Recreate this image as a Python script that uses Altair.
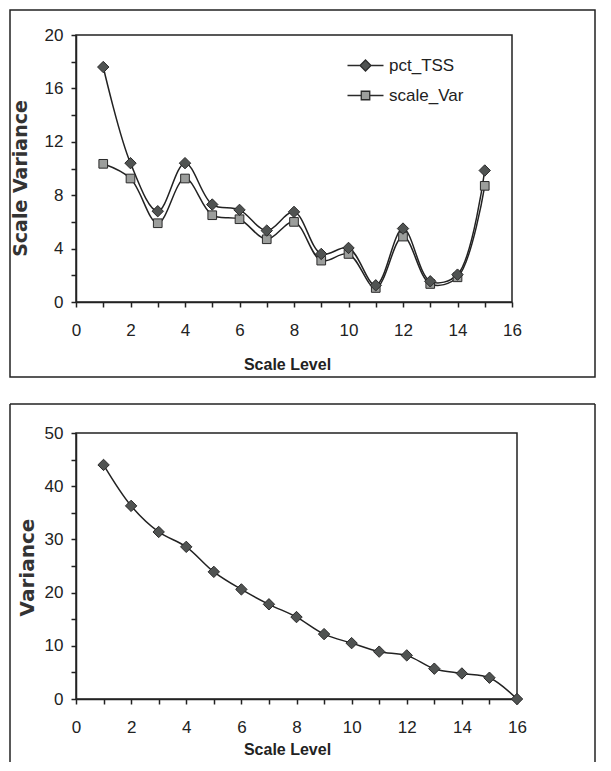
import altair as alt
import pandas as pd

# ---- data ----
series_names = ["pct_TSS", "scale_Var"]
levels_top = list(range(1, 16))
pct_tss = [17.6, 10.4, 6.8, 10.4, 7.3, 6.9, 5.35, 6.75, 3.6, 4.05, 1.25, 5.5, 1.55, 2.05, 9.85]
scale_var = [10.35, 9.25, 5.9, 9.25, 6.5, 6.2, 4.7, 6.0, 3.1, 3.6, 1.05, 4.9, 1.35, 1.85, 8.7]

levels_bottom = list(range(1, 17))
variance = [44.0, 36.3, 31.4, 28.6, 23.9, 20.6, 17.8, 15.4, 12.2, 10.5, 8.9, 8.2, 5.7, 4.8, 4.0, 0.0]

x_ticks = list(range(0, 17))
y_ticks_top = list(range(0, 21, 2))
y_ticks_bottom = list(range(0, 51, 5))

top_df = pd.DataFrame({
    "level": levels_top + levels_top,
    "value": pct_tss + scale_var,
    "series": [series_names[0]] * len(levels_top) + [series_names[1]] * len(levels_top),
})
bottom_df = pd.DataFrame({"level": levels_bottom, "value": variance})

INK = "#222222"
MARK_EDGE = "#2a2a2a"
DARK_FILL = "#505352"
LIGHT_FILL = "#9c9e9c"
LABEL_FONT = "Liberation Sans"

# legend symbols: a short line with the marker on it (unit box -1..1 scaled by sqrt(size)/2)
LEG_DIAMOND = "M-3.6,0H-1.1M1.1,0H3.6M0,-1.1L1.1,0L0,1.1L-1.1,0Z"
LEG_SQUARE = "M-3.6,0H-0.85M0.85,0H3.6M-0.85,-0.85H0.85V0.85H-0.85Z"


def x_axis(title_y):
    return alt.Axis(
        values=x_ticks,
        labelExpr="datum.value % 2 === 0 ? datum.label : ''",
        labelFlush=False, labelOverlap=False,
        labelFont=LABEL_FONT, labelFontSize=17, labelColor=INK, labelPadding=15,
        tickSize=5, tickColor=INK, tickWidth=1.5,
        domainColor=INK, domainWidth=1.5, grid=False,
        titleFont=LABEL_FONT, titleFontSize=16, titleFontWeight="bold", titleColor=INK,
        titleBaseline="alphabetic", titleAlign="center", titleX=211, titleY=title_y,
    )


def y_axis(values, expr, title_x, title_y, title_size):
    return alt.Axis(
        values=values, labelExpr=expr, labelOverlap=False, labelFlush=False,
        labelFont=LABEL_FONT, labelFontSize=17, labelColor=INK, labelPadding=8,
        tickSize=5, tickColor=INK, tickWidth=1.5,
        domainColor=INK, domainWidth=1.5, grid=False,
        titleFont="DejaVu Sans", titleFontSize=title_size, titleFontWeight="bold", titleColor="#333333",
        titleBaseline="alphabetic", titleAlign="center", titleX=title_x, titleY=title_y, titleAngle=270,
    )


# ---------- top chart ----------
xt = alt.X("level:Q", scale=alt.Scale(domain=[0, 16], nice=False), axis=x_axis(67), title="Scale Level")
yt = alt.Y("value:Q", scale=alt.Scale(domain=[0, 20], nice=False),
           axis=y_axis(y_ticks_top, "datum.value % 4 === 0 ? datum.label : ''", -50, 143, 19),
           title="Scale Variance")

legend = alt.Legend(
    orient="none", legendX=281, legendY=22, title=None, padding=0,
    symbolSize=100, symbolStrokeWidth=1.3, symbolOpacity=1,
    labelFontSize=17, labelFont=LABEL_FONT, labelColor=INK, rowPadding=12, labelOffset=15,
)

line_top = alt.Chart(top_df).mark_line(
    interpolate="catmull-rom", strokeWidth=1.5, color=INK, clip=False
).encode(x=xt, y=yt, detail="series:N")

pts_tss = alt.Chart(top_df).transform_filter(alt.datum.series == series_names[0]).mark_point(
    filled=True, shape="diamond", size=130, fill=DARK_FILL, stroke=MARK_EDGE, strokeWidth=1, opacity=1, clip=False
).encode(x=xt, y=yt)

pts_var = alt.Chart(top_df).transform_filter(alt.datum.series == series_names[1]).mark_point(
    filled=True, shape="square", size=75, fill=LIGHT_FILL, stroke=MARK_EDGE, strokeWidth=1, opacity=1, clip=False
).encode(x=xt, y=yt)

# legend carrier: zero-size points, only there to produce the legend
leg_layer = alt.Chart(top_df).mark_point(
    filled=True, size=0, opacity=1, stroke=MARK_EDGE, strokeWidth=1.3, strokeOpacity=1, clip=False
).encode(
    x=xt, y=yt,
    shape=alt.Shape("series:N", scale=alt.Scale(domain=series_names, range=[LEG_DIAMOND, LEG_SQUARE]), legend=legend),
    fill=alt.Fill("series:N", scale=alt.Scale(domain=series_names, range=[DARK_FILL, LIGHT_FILL]), legend=legend),
)

frame_top = alt.Chart(alt.Data(values=[{}])).mark_rect(
    fill="transparent", stroke=INK, strokeWidth=1.5, clip=False
).encode(x=alt.value(-66), x2=alt.value(519), y=alt.value(-25), y2=alt.value(342))

top = alt.layer(frame_top, line_top, pts_var, pts_tss, leg_layer).properties(width=436, height=267)

# ---------- bottom chart ----------
xb = alt.X("level:Q", scale=alt.Scale(domain=[0, 16], nice=False), axis=x_axis(55), title="Scale Level")
yb = alt.Y("value:Q", scale=alt.Scale(domain=[0, 50], nice=False),
           axis=y_axis(y_ticks_bottom, "datum.value % 10 === 0 ? datum.label : ''", -43, 134, 20),
           title="Variance")

line_bot = alt.Chart(bottom_df).mark_line(
    interpolate="catmull-rom", strokeWidth=1.5, color=INK, clip=False
).encode(x=xb, y=yb)

pts_bot = alt.Chart(bottom_df).mark_point(
    filled=True, fill=DARK_FILL, stroke=MARK_EDGE, strokeWidth=1, opacity=1, size=130,
    shape="diamond", clip=False
).encode(x=xb, y=yb)

one = alt.Data(values=[{}])
rule_top = alt.Chart(one).mark_rule(color=INK, strokeWidth=1.5, clip=False).encode(
    x=alt.value(-66), x2=alt.value(519), y=alt.value(-29))
rule_left = alt.Chart(one).mark_rule(color=INK, strokeWidth=1.5, clip=False).encode(
    x=alt.value(-66), y=alt.value(-29), y2=alt.value(329))
rule_right = alt.Chart(one).mark_rule(color=INK, strokeWidth=1.5, clip=False).encode(
    x=alt.value(519), y=alt.value(-29), y2=alt.value(329))

bottom = alt.layer(rule_top, rule_left, rule_right, line_bot, pts_bot).properties(width=441, height=266)

chart = alt.concat(top, bottom, columns=1, spacing=23, align="none", bounds="full").properties(
    padding={"left": 0, "top": 0, "right": 0, "bottom": 0},
    background="white",
).configure_view(stroke=INK, strokeWidth=1.5)

chart.save("out.html", embed_options={"renderer": "svg", "actions": False})
